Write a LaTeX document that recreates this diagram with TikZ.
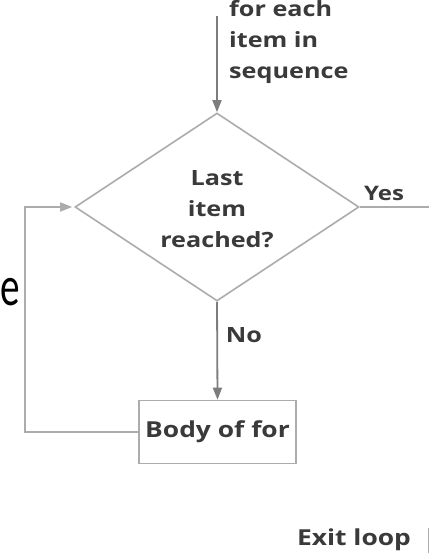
\documentclass[tikz,border=0pt]{standalone}
\usepackage{fontspec}
\setmainfont{Open Sans}
\newfontfamily\flowfont{Open Sans}[FakeStretch=1.2]
\newfontfamily\bigfont{Carlito}[FakeStretch=0.7]
\usetikzlibrary{shapes.geometric}
\usetikzlibrary{arrows.meta}
\definecolor{linegrey}{RGB}{125,125,125}
\definecolor{edgegrey}{RGB}{172,172,172}
\definecolor{textgrey}{RGB}{58,58,58}
\tikzset{
  flowtext/.style={font=\flowfont\bfseries\fontsize{21}{31}\selectfont,text=textgrey,inner sep=0pt},
  flowline/.style={draw=linegrey,line width=1.8pt},
  flowarrow/.style={flowline,-{Triangle[length=12pt,width=9pt]}},
  edgeline/.style={draw=edgegrey,line width=1.6pt},
}

\begin{document}
\begin{tikzpicture}[x=1pt,y=-1pt]
\useasboundingbox (0,0) rectangle (429,553);
\clip (0,0) rectangle (429,553);
\fill[white] (0,0) rectangle (429,553);

% shapes
\node[edgeline,shape=diamond,aspect=1.5,minimum width=284pt,minimum height=188pt,inner sep=0pt] (cond) at (217,207) {};
\node[flowtext,align=center] (condtext) at (217,209) {Last\\item\\reached?};
\node[edgeline,draw,rectangle,minimum width=157pt,minimum height=63pt,inner sep=0pt] (body) at (217.5,432) {};
\node[flowtext,font=\flowfont\bfseries\fontsize{22}{24}\selectfont] (bodytext) at (217.5,432) {Body of for};

% labels
\node[flowtext,align=left,anchor=north west] (seq) at (229,0) {for each\\item in\\sequence};
\node[flowtext,font=\flowfont\bfseries\fontsize{20}{24}\selectfont] (yes) at (384,193) {Yes};
\node[flowtext] (no) at (244,335) {No};
\node[flowtext,font=\flowfont\bfseries\fontsize{22}{24}\selectfont] (exit) at (354,540) {Exit loop};
\node[font=\bigfont\fontsize{56}{56}\selectfont,anchor=base west,inner sep=0pt] (frag) at (0.5,305) {e};

% connectors
\coordinate (start) at (217,16);
\coordinate (loop) at (25,300);
\coordinate (yesend) at (429,207);
\coordinate (edgetop) at (428,528);
\coordinate (edgebot) at (428,553);
\draw[flowarrow] (start) -- (cond.north);
\draw[flowarrow] (cond.south) -- (body.north);
\draw[edgeline] (cond.east) -- (yesend);
\draw[edgeline,-{Triangle[length=12pt,width=9pt]},shorten >=2pt] (body.west) -| (loop) |- (cond.west);
\draw[edgeline,line width=1pt] (edgetop) -- (edgebot);

\end{tikzpicture}
\end{document}
